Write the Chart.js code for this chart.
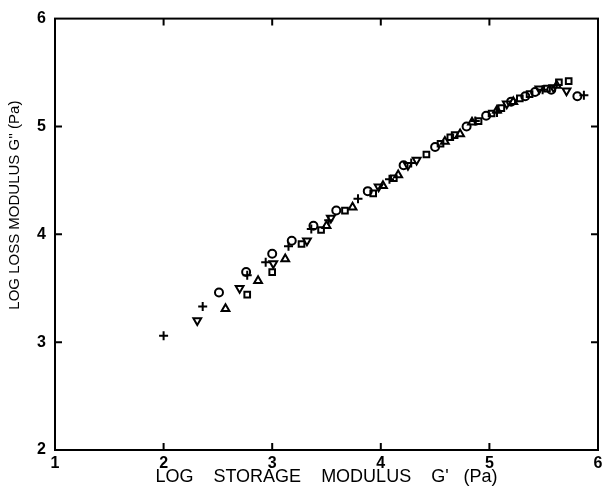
<!DOCTYPE html>
<html>
<head>
<meta charset="utf-8">
<script src="https://cdn.jsdelivr.net/npm/chart.js@4/dist/chart.umd.min.js"></script>
<style>
    html, body { margin: 0; padding: 0; background: #fff; }
    #graph-container { width: 608px; height: 488px; }
</style>
</head>
<body>
<div id="graph-container"><canvas id="chart-graph-modulus"></canvas></div>
<script>
// log G' (storage) and log G'' (loss), one pair of arrays per symbol
var circleStorage = [2.51, 2.76, 3.00, 3.18, 3.38, 3.59, 3.88, 4.21, 4.50, 4.79, 4.97, 5.20, 5.33, 5.42, 5.57, 5.81];
var circleLoss    = [3.46, 3.65, 3.82, 3.94, 4.08, 4.22, 4.40, 4.64, 4.81, 5.00, 5.10, 5.23, 5.28, 5.32, 5.34, 5.28];

var squareStorage = [2.77, 3.00, 3.27, 3.45, 3.67, 3.93, 4.12, 4.42, 4.55, 4.64, 4.68, 4.90, 5.02, 5.11, 5.28, 5.37, 5.53, 5.64, 5.73];
var squareLoss    = [3.44, 3.65, 3.91, 4.04, 4.22, 4.38, 4.52, 4.74, 4.84, 4.90, 4.92, 5.05, 5.12, 5.17, 5.26, 5.30, 5.35, 5.41, 5.42];

var triUpStorage = [2.57, 2.87, 3.12, 3.50, 3.74, 4.02, 4.16, 4.59, 4.73, 4.84, 5.07, 5.22, 5.62];
var triUpLoss    = [3.31, 3.57, 3.77, 4.08, 4.25, 4.45, 4.55, 4.86, 4.93, 5.04, 5.15, 5.23, 5.38];

var triDownStorage = [2.31, 2.70, 3.01, 3.32, 3.54, 3.98, 4.25, 4.33, 5.16, 5.46, 5.59, 5.71];
var triDownLoss    = [3.20, 3.50, 3.73, 3.94, 4.15, 4.44, 4.64, 4.69, 5.21, 5.35, 5.36, 5.33];

var plusStorage = [2.00, 2.36, 2.77, 2.94, 3.15, 3.36, 3.52, 3.79, 4.08, 4.28, 4.87, 5.07, 5.49, 5.87];
var plusLoss    = [3.06, 3.33, 3.62, 3.74, 3.89, 4.05, 4.13, 4.33, 4.51, 4.66, 5.05, 5.13, 5.34, 5.29];

var xTicks = [1, 2, 3, 4, 5, 6];
var yTicks = [2, 3, 4, 5, 6];

var xTitle = "LOG    STORAGE    MODULUS    G'   (Pa)";
var yTitle = "LOG LOSS MODULUS G'' (Pa)";

function pairs(xs, ys) {
    var out = [];
    for (var i = 0; i < xs.length; i++) {
        out.push({x: xs[i], y: ys[i]});
    }
    return out;
}

function symbol(data, style, rot, radius) {
    return {
        data: data,
        pointStyle: style,
        rotation: rot,
        pointRadius: radius,
        pointHoverRadius: radius,
        borderColor: '#000',
        backgroundColor: 'rgba(0,0,0,0)',
        pointBorderWidth: 2,
        showLine: false
    };
}

// frame on all four sides with inward ticks, like the printed figure
var framePlugin = {
    id: 'frame',
    afterDatasetsDraw: function (chart) {
        var ctx = chart.ctx;
        var a = chart.chartArea;
        var xs = chart.scales.x;
        var ys = chart.scales.y;
        var len = 7;
        ctx.save();
        ctx.strokeStyle = '#000';
        ctx.lineWidth = 2;
        ctx.strokeRect(a.left, a.top, a.right - a.left, a.bottom - a.top);
        ctx.beginPath();
        xTicks.slice(1, -1).forEach(function (v) {
            var px = xs.getPixelForValue(v);
            ctx.moveTo(px, a.bottom); ctx.lineTo(px, a.bottom - len);
            ctx.moveTo(px, a.top); ctx.lineTo(px, a.top + len);
        });
        yTicks.slice(1, -1).forEach(function (v) {
            var py = ys.getPixelForValue(v);
            ctx.moveTo(a.left, py); ctx.lineTo(a.left + len, py);
            ctx.moveTo(a.right, py); ctx.lineTo(a.right - len, py);
        });
        ctx.stroke();
        ctx.restore();
    }
};

new Chart(document.getElementById('chart-graph-modulus').getContext("2d"), {
    type: 'scatter',
    data: {
        datasets: [
            symbol(pairs(circleStorage, circleLoss), 'circle', 0, 4),
            symbol(pairs(squareStorage, squareLoss), 'rect', 0, 4),
            symbol(pairs(triUpStorage, triUpLoss), 'triangle', 0, 4.5),
            symbol(pairs(triDownStorage, triDownLoss), 'triangle', 180, 4.5),
            symbol(pairs(plusStorage, plusLoss), 'cross', 0, 4.5)
        ]
    },
    plugins: [framePlugin],
    options: {
        responsive: true,
        maintainAspectRatio: false,
        animation: false,
        layout: {padding: {left: 4, right: 10, top: 16, bottom: 0}},
        plugins: {
            legend: {display: false},
            tooltip: {enabled: false}
        },
        scales: {
            x: {
                type: 'linear',
                min: 1,
                max: 6,
                afterFit: function (scale) { scale.height = 38; },
                grid: {display: false, drawTicks: false},
                border: {display: false},
                ticks: {
                    stepSize: 1,
                    padding: 4,
                    color: '#000',
                    font: {family: 'Liberation Sans', size: 16, weight: 'bold'}
                },
                title: {
                    display: true,
                    text: xTitle,
                    color: '#000',
                    padding: {top: 0, bottom: 0},
                    font: {family: 'Liberation Sans', size: 18}
                }
            },
            y: {
                type: 'linear',
                min: 2,
                max: 6,
                afterFit: function (scale) { scale.width = 51; },
                grid: {display: false, drawTicks: false},
                border: {display: false},
                ticks: {
                    stepSize: 1,
                    padding: 9,
                    color: '#000',
                    font: {family: 'Liberation Sans', size: 16, weight: 'bold'}
                },
                title: {
                    display: true,
                    text: '              ' + yTitle,
                    color: '#000',
                    padding: {top: 2, bottom: 0},
                    font: {family: 'Liberation Sans', size: 15}
                }
            }
        }
    }
});
</script>
</body>
</html>
